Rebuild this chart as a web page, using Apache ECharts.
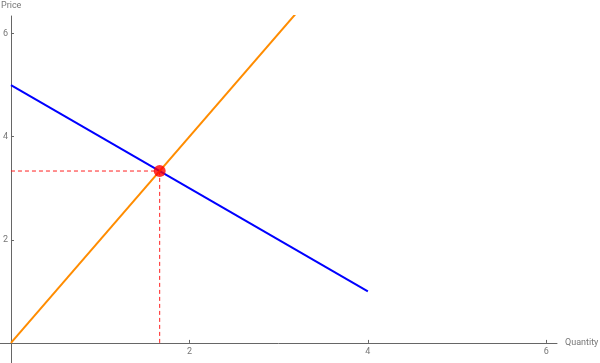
<!DOCTYPE html>
<html><head><meta charset="utf-8">
<script src="https://cdn.jsdelivr.net/npm/echarts@6/dist/echarts.min.js"></script>
<style>html,body{margin:0;padding:0;background:#fff}#c{width:600px;height:363px}</style>
</head><body><div id="c"></div>
<script>
var xTicks = [2, 4, 6];
var yTicks = [2, 4, 6];
var demand = [[0, 5], [4, 1]];
var supply = [[0, 0], [3.2, 6.4]];
var eqQ = 5 / 3, eqP = 10 / 3;
var hDash = [[0, eqP], [eqQ, eqP]];
var vDash = [[eqQ, 0], [eqQ, eqP]];
var eqPoint = [[eqQ, eqP]];

var chart = echarts.init(document.getElementById('c'), null, {renderer: 'canvas'});
var axisCol = '#666';
var labCol = '#777';
chart.setOption({
  animation: false,
  textStyle: {fontFamily: 'Roboto'},
  grid: {left: 0, right: 43, top: 16, bottom: 0, containLabel: false, outerBoundsMode: 'none'},
  xAxis: {
    type: 'value', min: -0.123, max: 6.12,
    name: 'Quantity', nameLocation: 'end', nameGap: 8,
    nameTextStyle: {color: labCol, fontSize: 9, fontFamily: 'Roboto', align: 'left', verticalAlign: 'middle', padding: [4, 0, 0, 0]},
    axisLine: {show: true, onZero: true, lineStyle: {color: axisCol, width: 1}},
    axisTick: {show: true, inside: true, length: 3, customValues: xTicks, lineStyle: {color: axisCol}},
    axisLabel: {show: true, customValues: xTicks, color: labCol, fontSize: 9, margin: -16},
    splitLine: {show: false}
  },
  yAxis: {
    type: 'value', min: -0.39, max: 6.34,
    name: 'Price', nameLocation: 'end', nameGap: 6,
    nameTextStyle: {color: labCol, fontSize: 9, fontFamily: 'Roboto', align: 'left', padding: [0, 0, 0, -10]},
    axisLine: {show: true, onZero: true, lineStyle: {color: axisCol, width: 1}},
    axisTick: {show: true, inside: true, length: 3, customValues: yTicks, lineStyle: {color: axisCol}},
    axisLabel: {show: true, customValues: yTicks, color: labCol, fontSize: 9, margin: -8},
    splitLine: {show: false}
  },
  series: [
    {type: 'line', data: hDash, symbol: 'none', lineStyle: {color: '#ff2020', width: 1, type: [4, 3]}, z: 1},
    {type: 'line', data: vDash, symbol: 'none', lineStyle: {color: '#ff2020', width: 1, type: [4, 3]}, z: 1},
    {type: 'line', data: demand, symbol: 'none', lineStyle: {color: '#0000ff', width: 2}, z: 2},
    {type: 'line', data: supply, symbol: 'none', clip: true, lineStyle: {color: '#ff8c00', width: 2}, z: 2},
    {type: 'scatter', data: eqPoint, symbol: 'circle', symbolSize: 12, itemStyle: {color: '#ff0000'}, z: 3}
  ]
});
</script></body></html>
